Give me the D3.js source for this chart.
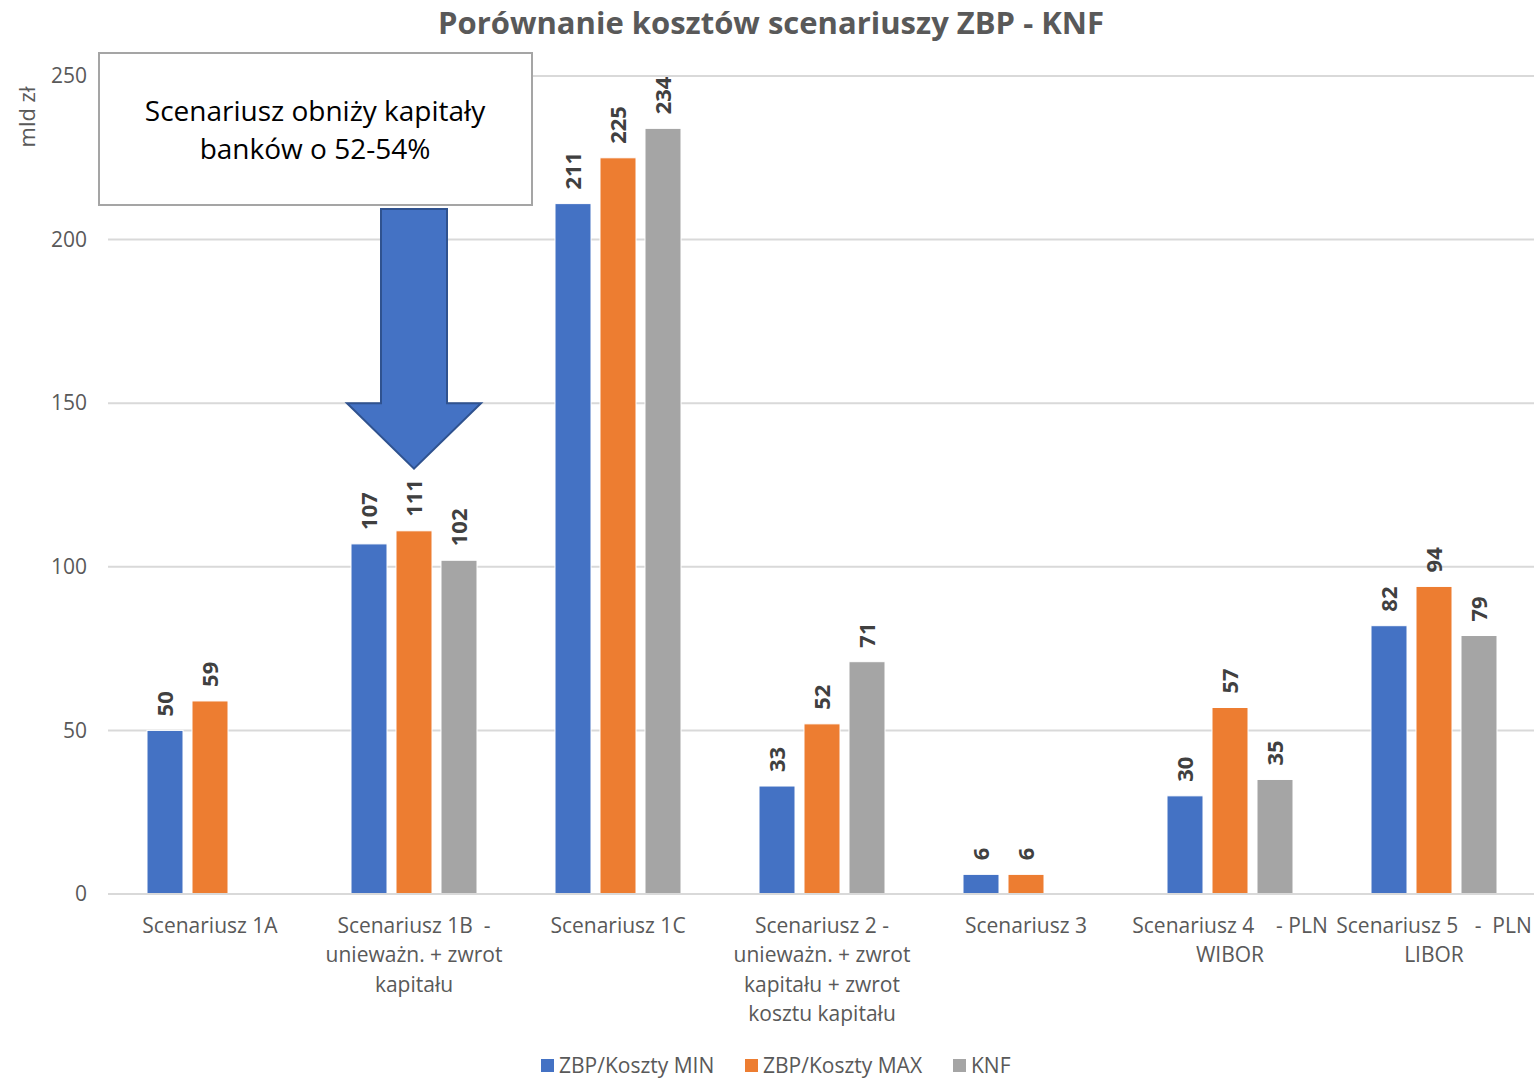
<!DOCTYPE html>
<html>
<head>
<meta charset="utf-8">
<script src="https://cdn.jsdelivr.net/npm/d3@7"></script>
<style>
  body { margin: 0; background: #fff; }
  text { font-family: "Open Sans", "Noto Sans", sans-serif; }
</style>
</head>
<body>
<div id="chart"></div>
<script>
// Data
const categories = [
    ['Scenariusz 1A'],
    ['Scenariusz 1B  -', 'unieważn. + zwrot', 'kapitału'],
    ['Scenariusz 1C'],
    ['Scenariusz 2 -', 'unieważn. + zwrot', 'kapitału + zwrot', 'kosztu kapitału'],
    ['Scenariusz 3'],
    ['Scenariusz 4    - PLN', 'WIBOR'],
    ['Scenariusz 5   -  PLN', 'LIBOR']
];
const seriesNames = ['ZBP/Koszty MIN', 'ZBP/Koszty MAX', 'KNF'];
const seriesColors = ['#4472C4', '#ED7D31', '#A5A5A5'];
const zbpMin = [50, 107, 211, 33, 6, 30, 82];
const zbpMax = [59, 111, 225, 52, 6, 57, 94];
const knf = [null, 102, 234, 71, null, 35, 79];
const yTicks = [0, 50, 100, 150, 200, 250];

const width = 1534;
const height = 1078;

const svg = d3.select('#chart')
    .append('svg')
    .attr('width', width)
    .attr('height', height);

const catKeys = categories.map(c => c.join(' '));

// Scales
const x0 = d3.scaleBand()
    .domain(catKeys)
    .range([108, 1536]);

const x1 = d3.scaleBand()
    .domain(seriesNames)
    .range([-67.5, 67.5])
    .paddingInner(0.2)
    .paddingOuter(0.1);

const y = d3.scaleLinear()
    .domain([0, 250])
    .range([894, 76]);

// Gridlines
svg.append('g')
    .selectAll('line')
    .data(yTicks)
    .enter().append('line')
    .attr('x1', 108)
    .attr('x2', 1534)
    .attr('y1', d => y(d))
    .attr('y2', d => y(d))
    .style('stroke', '#D9D9D9')
    .style('stroke-width', 2);

// Y axis labels
const yAxis = d3.axisLeft(y).tickValues(yTicks).tickSize(0).tickPadding(0);
const yG = svg.append('g')
    .attr('transform', 'translate(87,0)')
    .call(yAxis);
yG.select('.domain').remove();
yG.selectAll('text')
    .style('font-size', '21px')
    .style('fill', '#595959')
    .style('font-family', '"Open Sans", sans-serif');

// Axis title
svg.append('text')
    .attr('transform', 'translate(35,117) rotate(-90)')
    .attr('text-anchor', 'middle')
    .style('font-size', '22px')
    .style('fill', '#595959')
    .text('mld zł');

// Chart title
svg.append('text')
    .attr('x', 771)
    .attr('y', 34)
    .attr('text-anchor', 'middle')
    .style('font-size', '31px')
    .style('font-weight', 'bold')
    .style('fill', '#595959')
    .text('Porównanie kosztów scenariuszy ZBP - KNF');

// Bars
const rows = catKeys.map((k, i) => ({
    key: k,
    values: [zbpMin[i], zbpMax[i], knf[i]].map((v, j) => ({ series: seriesNames[j], color: seriesColors[j], value: v }))
}));

const groups = svg.append('g')
    .selectAll('g')
    .data(rows)
    .enter().append('g')
    .attr('transform', d => `translate(${x0(d.key) + x0.bandwidth() / 2},0)`);

const bars = groups.selectAll('g.bar')
    .data(d => d.values.filter(v => v.value !== null))
    .enter().append('g')
    .attr('class', 'bar');

bars.append('rect')
    .attr('x', d => x1(d.series))
    .attr('width', x1.bandwidth())
    .attr('y', d => y(d.value))
    .attr('height', d => y(0) - y(d.value))
    .style('fill', d => d.color)
    .style('stroke', '#fff')
    .style('stroke-width', 1);

bars.append('text')
    .attr('transform', d => `translate(${x1(d.series) + x1.bandwidth() / 2 + 8},${y(d.value) - 14}) rotate(-90)`)
    .attr('text-anchor', 'start')
    .style('font-size', '22px')
    .style('font-weight', 'bold')
    .style('fill', '#404040')
    .text(d => d.value);

// Baseline
svg.append('line')
    .attr('x1', 108).attr('x2', 1534)
    .attr('y1', y(0)).attr('y2', y(0))
    .style('stroke', '#D9D9D9')
    .style('stroke-width', 2);

// Category labels
const catLabels = svg.append('g')
    .selectAll('text')
    .data(categories)
    .enter().append('text')
    .attr('x', (d, i) => x0(catKeys[i]) + x0.bandwidth() / 2)
    .attr('y', 933)
    .attr('text-anchor', 'middle')
    .style('font-size', '21px')
    .style('fill', '#595959');

catLabels.selectAll('tspan')
    .data(d => d)
    .enter().append('tspan')
    .attr('x', function() { return d3.select(this.parentNode).attr('x'); })
    .attr('dy', (d, i) => i === 0 ? 0 : 29.4)
    .style('white-space', 'pre')
    .attr('xml:space', 'preserve')
    .text(d => d);

// Legend
const legendX = [541, 745, 953];
const legend = svg.append('g')
    .selectAll('g')
    .data(seriesNames)
    .enter().append('g')
    .attr('transform', (d, i) => `translate(${legendX[i]},1059)`);

legend.append('rect')
    .attr('width', 13)
    .attr('height', 13)
    .style('fill', (d, i) => seriesColors[i]);

legend.append('text')
    .attr('x', 18)
    .attr('y', 14)
    .style('font-size', '21px')
    .style('fill', '#595959')
    .text(d => d);

// Annotation box
svg.append('rect')
    .attr('x', 99)
    .attr('y', 53)
    .attr('width', 433)
    .attr('height', 152)
    .style('fill', '#fff')
    .style('stroke', '#A5A5A5')
    .style('stroke-width', 2);

const note = svg.append('text')
    .attr('x', 315)
    .attr('text-anchor', 'middle')
    .style('font-size', '28px')
    .style('fill', '#000');
note.append('tspan').attr('x', 315).attr('y', 121).text('Scenariusz obniży kapitały');
note.append('tspan').attr('x', 315).attr('y', 159).text('banków o 52-54%');

// Arrow pointing at scenario 1B
const ax = x0(catKeys[1]) + x0.bandwidth() / 2;
const arrow = d3.path();
arrow.moveTo(ax - 33, 209);
arrow.lineTo(ax + 33, 209);
arrow.lineTo(ax + 33, y(150));
arrow.lineTo(ax + 67, y(150));
arrow.lineTo(ax, y(130));
arrow.lineTo(ax - 67, y(150));
arrow.lineTo(ax - 33, y(150));
arrow.closePath();
svg.append('path')
    .attr('d', arrow.toString())
    .style('fill', '#4472C4')
    .style('stroke', '#2F528F')
    .style('stroke-width', 2);
</script>
</body>
</html>
